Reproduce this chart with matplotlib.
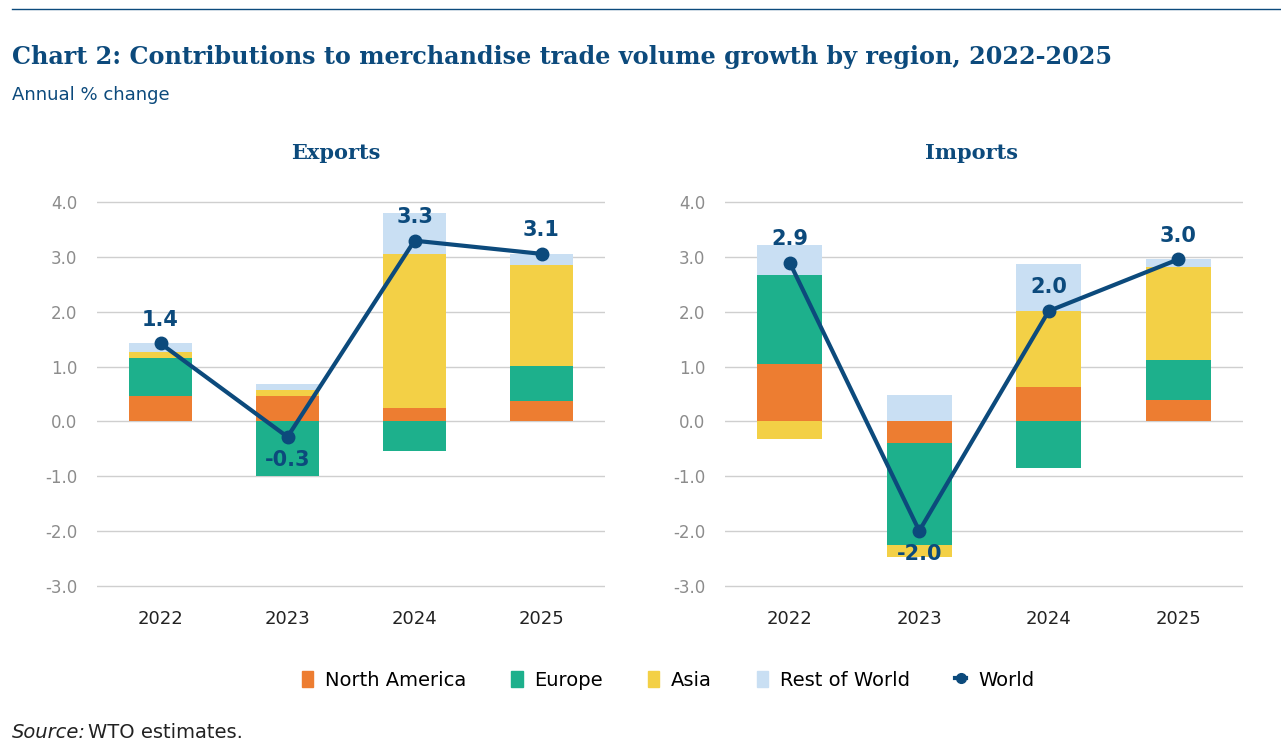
import numpy as np
import matplotlib.pyplot as plt
from matplotlib.patches import Patch
from matplotlib.lines import Line2D

years = ["2022", "2023", "2024", "2025"]
regions = ["North America", "Europe", "Asia", "Rest of World"]

exp_na = [0.47, 0.47, 0.25, 0.37]
exp_eu = [0.69, -0.99, -0.54, 0.64]
exp_as = [0.10, 0.10, 2.80, 1.83]
exp_rw = [0.17, 0.12, 0.75, 0.20]
exp_world = [1.42, -0.28, 3.29, 3.05]
exp_labels = ["1.4", "-0.3", "3.3", "3.1"]

imp_na = [1.05, -0.40, 0.63, 0.39]
imp_eu = [1.61, -1.85, -0.84, 0.73]
imp_as = [-0.32, -0.22, 1.38, 1.69]
imp_rw = [0.56, 0.49, 0.86, 0.15]
imp_world = [2.89, -1.99, 2.01, 2.95]
imp_labels = ["2.9", "-2.0", "2.0", "3.0"]

colors = ["#ED7D31", "#1DB08C", "#F3D046", "#C9DFF3"]
navy = "#0C4A7C"
label_side = {"exp": [1, -1, 1, 1], "imp": [1, -1, 1, 1]}

fig = plt.figure(figsize=(12.81, 7.55), dpi=100)

# top rule
fig.add_artist(Line2D([12 / 1281, 1], [1 - 9 / 755] * 2, color=navy, lw=1))
fig.text(12 / 1281, 1 - 57 / 755, "Chart 2: Contributions to merchandise trade volume growth by region, 2022-2025",
         fontsize=17.2, fontweight="bold", family="DejaVu Serif", color=navy, va="center")
fig.text(12 / 1281, 1 - 95 / 755, "Annual % change", fontsize=13, color=navy, va="center")


def draw_panel(ax, parts, world, labels, sides, title, title_x):
    x = np.arange(len(years))
    pos = np.zeros(len(years))
    neg = np.zeros(len(years))
    for vals, c in zip(parts, colors):
        vals = np.array(vals)
        bottom = np.where(vals >= 0, pos, neg)
        ax.bar(x, vals, 0.5, bottom=bottom, color=c, zorder=2)
        pos = pos + np.where(vals >= 0, vals, 0)
        neg = neg + np.where(vals < 0, vals, 0)
    ax.plot(x, world, color=navy, lw=3, marker="o", ms=9, zorder=3)
    for xi, yi, lab, s in zip(x, world, labels, sides):
        ax.annotate(lab, (xi, yi), xytext=(0, 17 * s), textcoords="offset points",
                    ha="center", va="center", fontsize=15, fontweight="bold",
                    color=navy, zorder=4)
    ax.set_xlim(-0.5, 3.5)
    ax.set_ylim(-3.03, 4.03)
    ax.set_yticks(np.arange(-3, 4.1, 1))
    ax.set_yticklabels([f"{v:.1f}" for v in np.arange(-3, 4.1, 1)])
    ax.set_xticks(x)
    ax.set_xticklabels(years)
    ax.grid(axis="y", color="#CFCFCF", lw=1, zorder=0)
    ax.tick_params(axis="both", length=0)
    ax.tick_params(axis="y", labelsize=12, labelcolor="#8C8C8C", pad=14)
    ax.tick_params(axis="x", labelsize=13, labelcolor="#222222", pad=16)
    for sp in ax.spines.values():
        sp.set_visible(False)
    fig.text(title_x, 1 - 153 / 755, title, fontsize=15, family="DejaVu Serif",
             fontweight="bold", color=navy, ha="center", va="center")


ax1 = fig.add_axes([97 / 1281, 1 - 588 / 755, 508 / 1281, 388 / 755])
draw_panel(ax1, [exp_na, exp_eu, exp_as, exp_rw], exp_world, exp_labels,
           label_side["exp"], "Exports", 336 / 1281)

ax2 = fig.add_axes([725 / 1281, 1 - 588 / 755, 518 / 1281, 388 / 755])
draw_panel(ax2, [imp_na, imp_eu, imp_as, imp_rw], imp_world, imp_labels,
           label_side["imp"], "Imports", 972 / 1281)

handles = [Patch(color=c) for c in colors]
handles.append(Line2D([], [], color=navy, lw=3, marker="o", ms=7))
labels = regions + ["World"]
fig.legend(handles, labels, loc="center", bbox_to_anchor=(668 / 1281, 1 - 680 / 755),
           ncol=5, frameon=False, fontsize=14, handlelength=0.6, handleheight=0.9,
           columnspacing=2.3, handletextpad=0.6)

fig.text(12 / 1281, 1 - 733 / 755, "Source:", fontsize=14, style="italic", color="#222222", va="center")
fig.text(88 / 1281, 1 - 733 / 755, "WTO estimates.", fontsize=14, color="#222222", va="center")

fig.savefig("out.png", dpi=100)
